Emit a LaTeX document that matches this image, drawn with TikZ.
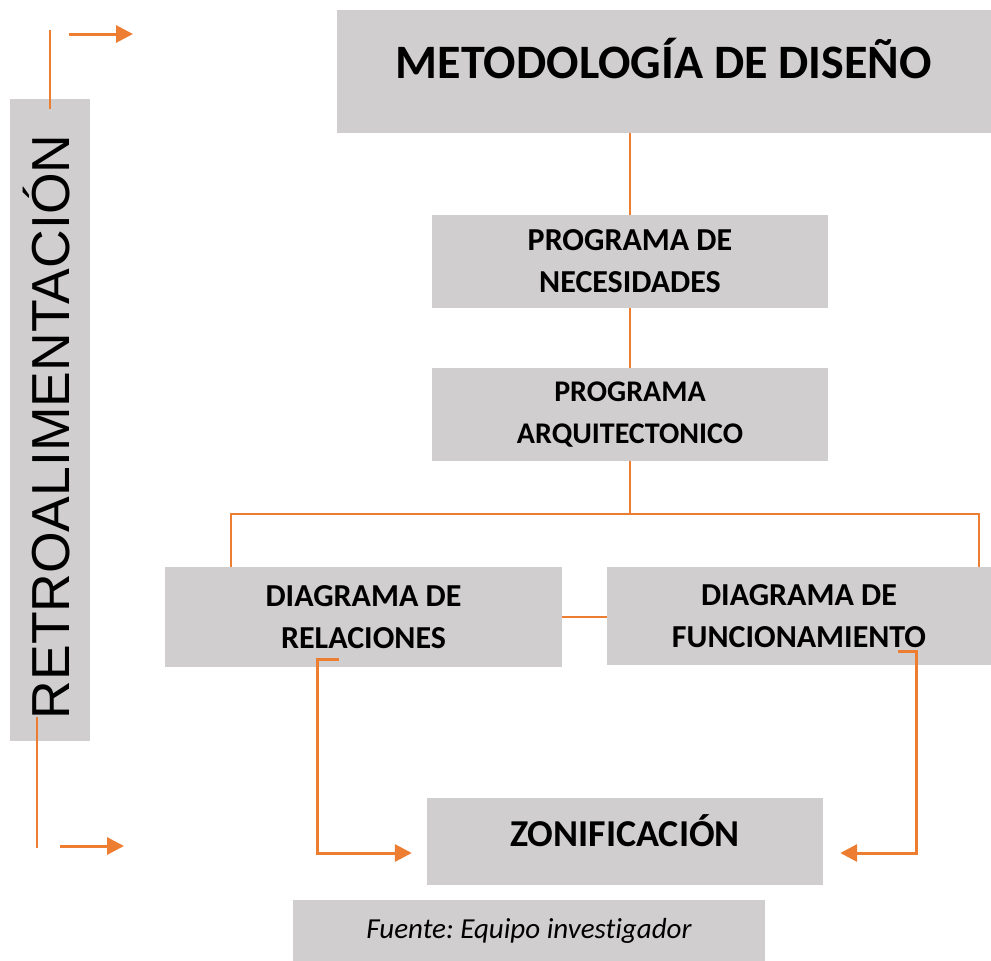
\documentclass[tikz,border=0pt]{standalone}
\usepackage{fontspec}
\setmainfont{Carlito}[Ligatures=NoCommon]
\newfontfamily\arialfont{Liberation Sans}
\usetikzlibrary{arrows.meta,calc}
\definecolor{MDGray}{HTML}{D0CECE}
\definecolor{MDOrange}{HTML}{ED7D31}
\frenchspacing

\begin{document}
\begin{tikzpicture}[
    x=1pt,y=-1pt,
    box/.style={fill=MDGray,inner sep=0pt,align=center,
      font=\bfseries\fontsize{32}{42}\selectfont},
    link/.style={draw=MDOrange,line width=1.2pt},
    flow/.style={draw=MDOrange,line width=3pt,
      -{Triangle[length=17pt,width=17pt]}}
  ]
  \useasboundingbox (0,0) rectangle (991,961);

  % boxes
  \node[box,minimum width=654,minimum height=123,
    font=\bfseries\fontsize{48}{58}\selectfont,text height=35pt,text depth=22pt]
    (title) at (664,71.5) {METODOLOGÍA DE DISEÑO};
  \node[box,minimum width=396,minimum height=93] (needs) at (630,261.5)
    {PROGRAMA DE\\NECESIDADES};
  \node[box,minimum width=396,minimum height=93,
    font=\bfseries\fontsize{30}{42}\selectfont] (arq) at (630,414.5)
    {PROGRAMA\\ARQUITECTONICO};
  \node[box,minimum width=397,minimum height=100] (rel) at (363.5,617)
    {DIAGRAMA DE\\RELACIONES};
  \node[box,minimum width=384,minimum height=98] (fun) at (799,616)
    {DIAGRAMA DE\\FUNCIONAMIENTO};
  \node[box,minimum width=396,minimum height=87,
    font=\bfseries\fontsize{38}{46}\selectfont,text height=26pt,text depth=17pt]
    (zon) at (625,841.5) {ZONIFICACIÓN};
  \node[box,minimum width=472,minimum height=61,
    font=\itshape\fontsize{29}{34}\selectfont] (src) at (529,930.5)
    {Fuente: Equipo investigador};
  \node[box,rotate=90,minimum width=642,minimum height=80,
    font=\arialfont\fontsize{53.5}{60}\selectfont,text height=38pt,text depth=0pt]
    (retro) at (50,420) {RETROALIMENTACIÓN\hspace*{14pt}};

  % tree
  \coordinate (busL) at (231,514);
  \coordinate (busR) at (979,514);
  \draw[link] (needs.north) -- (needs.north |- title.south);
  \draw[link] (needs.south) -- (arq.north);
  \draw[link] (arq.south) -- (arq.south |- busL);
  \draw[link] (busL |- rel.north) -- (busL) -- (busR) -- (busR |- fun.north);
  \draw[link] (rel.east) -- (rel.east -| fun.west);

  % into zonificacion
  \coordinate (relA) at ($(rel.south)+(-25,-8)$);
  \coordinate (funA) at ($(fun.south)+(99,-14)$);
  \draw[flow] (relA) -- ++(-21,0) |- ($(zon.west)+(-15,11.5)$);
  \draw[flow] (funA) -- ++(18,0) |- ($(zon.east)+(17,11.5)$);

  % feedback
  \coordinate (fbTop) at (50,30);
  \coordinate (fbBot) at ($(retro.west)+(-13,-24)$);
  \coordinate (fbIn) at (69,34);
  \coordinate (fbOut) at (60,846);
  \draw[link] (fbTop) -- ($(retro.east)+(0,10)$);
  \draw[link] (fbBot) -- ++(0,131);
  \draw[flow] (fbIn) -- ++(64,0);
  \draw[flow] (fbOut) -- ++(64,0);
\end{tikzpicture}
\end{document}
